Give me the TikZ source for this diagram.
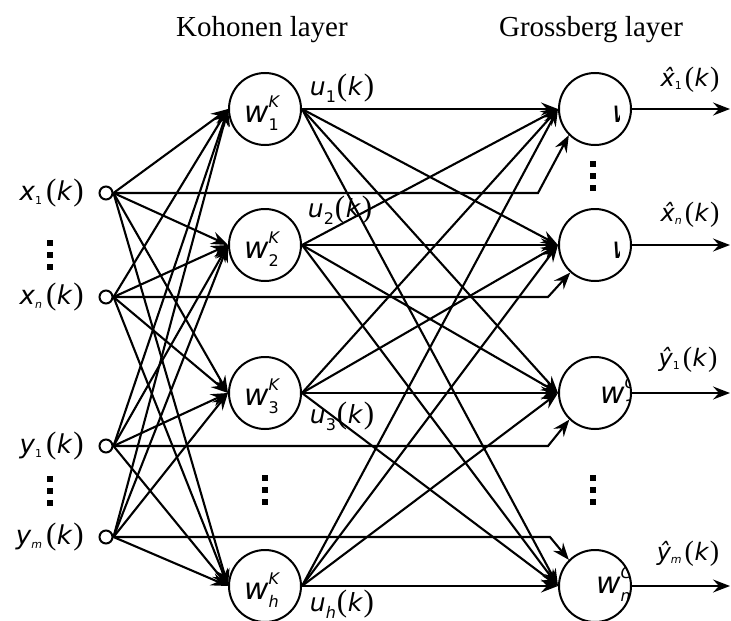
\documentclass[tikz,border=0pt]{standalone}
\usepackage{fontspec}
\setmainfont{Liberation Serif}
\newfontfamily\symfont{DejaVu Sans}
\usetikzlibrary{arrows.meta}

% italic sans symbol at a given size
\newcommand\sy[2]{{\fontsize{#1}{#1}\selectfont\symfont\itshape #2}}
% index raised or lowered by #2, size #1
\newcommand\ix[3]{\raisebox{#2}{\fontsize{#1}{#1}\selectfont\symfont #3}}
% thin parentheses round #2, size #1
\newcommand\pr[2]{{\fontsize{#1}{#1}\selectfont\rmfamily(}\hspace{0.5pt}#2\hspace{1.5pt}{\fontsize{#1}{#1}\selectfont\rmfamily)}}
% weight symbol w with superscript #1 and subscript #2
\newcommand\wt[2]{\sy{30}{w}\rlap{\ix{16}{15pt}{\itshape #1}}\ix{16}{-8pt}{#2}}
% signal u_i(k)
\newcommand\sig[1]{\sy{25}{u}\ix{16}{-7pt}{#1}\hspace{1pt}\pr{31}{\sy{25}{k}}}
% input x_i(k)
\newcommand\inp[2]{\sy{26}{#1}\ix{11}{-4pt}{#2}\hspace{4pt}\pr{31}{\sy{26}{k}}}
% output estimate
\newcommand\outp[2]{\sy{24}{#1\char"0302}\ix{11}{-3pt}{#2}\hspace{3pt}\pr{28}{\sy{24}{k}}}

\begin{document}
\begin{tikzpicture}[x=1pt,y=-1pt,
  neuron/.style={circle,draw,line width=2pt,minimum size=72pt,inner sep=0pt},
  innode/.style={circle,draw,line width=2pt,minimum size=13pt,inner sep=0pt},
  wire/.style={line width=2.1pt},
  arr/.style={wire,-{Stealth[length=17pt,width=13pt,inset=6pt]}},
  dotsq/.style={fill,minimum size=6pt,inner sep=0pt},
  title/.style={font=\fontsize{29}{29}\selectfont},
  lab/.style={inner sep=0pt}]
\useasboundingbox (0,0) rectangle (731,621);

% layer titles
\node[title] (tk) at (262,30) {Kohonen layer};
\node[title] (tg) at (591,30) {Grossberg layer};

% input terminals
\node[innode] (x1) at (106,193) {};
\node[innode] (xn) at (106,297) {};
\node[innode] (y1) at (106,446) {};
\node[innode] (ym) at (106,537) {};

% Kohonen neurons
\node[neuron] (k1) at (265,109) {};
\node[neuron] (k2) at (265,245) {};
\node[neuron] (k3) at (265,393) {};
\node[neuron] (kh) at (265,586) {};

% Grossberg neurons
\node[neuron] (g1) at (595,109) {};
\node[neuron] (g2) at (595,245) {};
\node[neuron] (g3) at (595,393) {};
\node[neuron] (g4) at (595,586) {};

% input labels
\node[lab,anchor=east] (lx1) at (84,193) {\inp{x}{1}};
\node[lab,anchor=east] (lxn) at (84,297) {\inp{x}{\itshape n}};
\node[lab,anchor=east] (ly1) at (84,446) {\inp{y}{1}};
\node[lab,anchor=east] (lym) at (84,537) {\inp{y}{\itshape m}};

% Kohonen weights
\node[lab,anchor=base west] (wk1) at (244,122) {\wt{K}{1}};
\node[lab,anchor=base west] (wk2) at (244,258) {\wt{K}{2}};
\node[lab,anchor=base west] (wk3) at (244,405) {\wt{K}{3}};
\node[lab,anchor=base west] (wkh) at (244,599) {\wt{K}{\itshape h}};

% Grossberg weights, cut off by their circles
\begin{scope}
  \clip (g1.center) circle (36);
  \clip (560,60) rectangle (619,160);
  \node[lab,anchor=base west] (wg1) at (612,122) {\wt{G}{1}};
\end{scope}
\begin{scope}
  \clip (g2.center) circle (36);
  \clip (560,200) rectangle (619,290);
  \node[lab,anchor=base west] (wg2) at (612,258) {\wt{G}{\itshape n}};
\end{scope}
\begin{scope}
  \clip (g3.center) circle (36);
  \node[lab,anchor=base west] (wg3) at (600,403) {\wt{G}{1}};
\end{scope}
\begin{scope}
  \clip (g4.center) circle (36);
  \node[lab,anchor=base west] (wg4) at (596,593) {\wt{G}{\itshape m}};
\end{scope}

% input to Kohonen connections
\foreach \i in {x1,xn,y1,ym}
  \foreach \k in {k1,k2,k3,kh}
    \draw[arr] (\i.east) -- (\k.west);

% Kohonen to Grossberg connections
\foreach \k in {k1,k2,k3,kh}
  \foreach \g in {g1,g2,g3,g4}
    \draw[arr] (\k.east) -- (\g.west);

% direct paths from the inputs to the Grossberg layer
\coordinate (bx1) at (538,193);
\coordinate (bxn) at (548,297);
\coordinate (by1) at (548,446);
\coordinate (bym) at (550,537);
\draw[arr] (x1.east) -- (bx1) -- (g1.-135);
\draw[arr] (xn.east) -- (bxn) -- (g2.-132);
\draw[arr] (y1.east) -- (by1) -- (g3.-134);
\draw[arr] (ym.east) -- (bym) -- (g4.135);

% outputs
\coordinate (o1) at (730,109);
\coordinate (o2) at (730,245);
\coordinate (o3) at (730,393);
\coordinate (o4) at (730,586);
\draw[arr] (g1.east) -- (o1);
\draw[arr] (g2.east) -- (o2);
\draw[arr] (g3.east) -- (o3);
\draw[arr] (g4.east) -- (o4);

% signal labels
\node[lab] (u1) at (342,88) {\sig{1}};
\node[lab] (u2) at (340,210) {\sig{2}};
\node[lab] (u3) at (342,416) {\sig{3}};
\node[lab] (uh) at (342,604) {\sig{\itshape h}};

% output labels
\node[lab] (ox1) at (690,80) {\outp{x}{1}};
\node[lab] (oxn) at (690,215) {\outp{x}{\itshape n}};
\node[lab] (oy1) at (688,360) {\outp{y}{1}};
\node[lab] (oym) at (688,554) {\outp{y}{\itshape m}};

% vertical ellipses
\foreach \x/\y [count=\n] in {50/243,50/479,265/478,593/164,593/478}{
  \node[dotsq] (d\n a) at (\x,\y) {};
  \node[dotsq] (d\n b) at (\x,\y+12) {};
  \node[dotsq] (d\n c) at (\x,\y+24) {};
}
\end{tikzpicture}
\end{document}
